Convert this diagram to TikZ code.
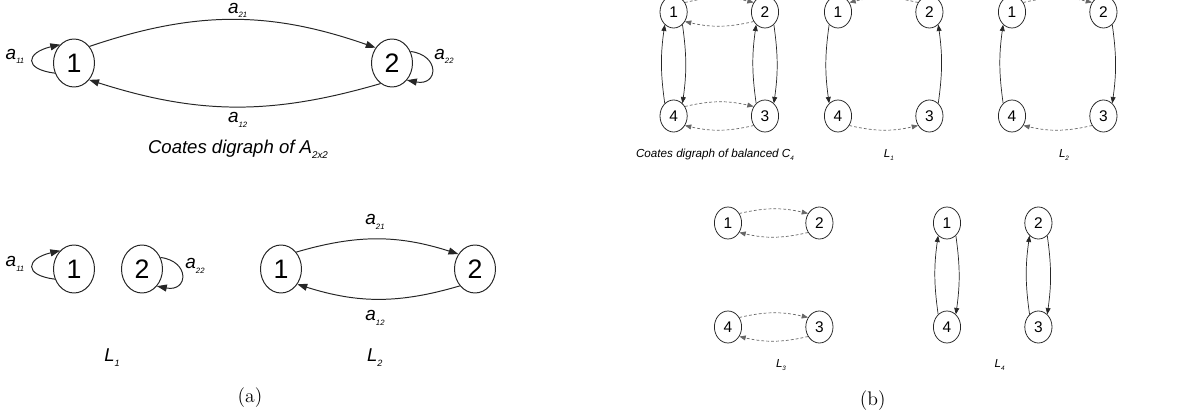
\documentclass[tikz,border=0pt]{standalone}
\usepackage{fontspec}
\newfontfamily\arialf{Liberation Sans}
\usetikzlibrary{arrows.meta,shapes.geometric}
\tikzset{
  vbig/.style={ellipse,draw=black!85,line width=0.7pt,minimum width=1.025cm,
    minimum height=1.2cm,inner sep=0pt,font=\arialf\fontsize{19}{20}\selectfont},
  vsm/.style={ellipse,draw=black!85,line width=0.55pt,minimum width=0.68cm,
    minimum height=0.8cm,inner sep=0pt,font=\arialf\fontsize{11}{12}\selectfont},
  edg/.style={draw=black!85,line width=0.7pt,-{Triangle[length=7pt,width=5pt]}},
  edgs/.style={draw=black!85,line width=0.5pt,-{Triangle[length=4.5pt,width=3.5pt]}},
  dedg/.style={edgs,draw=black!60,dash pattern=on 2pt off 1.5pt},
  wlbl/.style={anchor=base,inner sep=1pt,font=\arialf\fontsize{13.5}{15}\selectfont},
  capa/.style={anchor=base,font=\arialf\itshape\fontsize{13.2}{15}\selectfont},
  capb/.style={anchor=base,font=\arialf\itshape\fontsize{8.3}{10}\selectfont},
}
\newcommand{\wt}[1]{\textit{a}\raisebox{-0.45ex}{\fontsize{5.5}{6}\selectfont\textit{#1}}}
\newcommand{\lsub}[2]{\raisebox{-0.45ex}{\fontsize{#1}{#1}\selectfont #2}}
\begin{document}
\begin{tikzpicture}[x=1cm,y=1cm]
  \useasboundingbox (0,0) rectangle (30.075,10.475);
  % (a) Coates digraph of A
  \node[vbig] (co1) at (1.85,8.9) {1};
  \node[vbig] (co2) at (9.8,8.9) {2};
  \draw[edg] (co1.47) to[bend left=19] (co2.137);
  \draw[edg] (co2.241) to[bend left=17] (co1.312);
  \draw[edg] (co1.208) .. controls +(-0.8,0.1) and +(-0.85,-0.2) .. (co1.127);
  \draw[edg] (co2.32) .. controls +(0.75,-0.1) and +(0.78,-0.15) .. (co2.311);
  \node[wlbl] (cw21) at (5.94,10.14) {\wt{21}};
  \node[wlbl] (cw12) at (5.94,7.4) {\wt{12}};
  \node[wlbl] (cw11) at (0.375,8.99) {\wt{11}};
  \node[wlbl] (cw22) at (11.1,8.99) {\wt{22}};
  \node[capa] (capco) at (5.95,6.625) {Coates digraph of A\lsub{7}{2x2}};
  % (a) linear subgraphs
  \node[vbig] (one1) at (1.85,3.75) {1};
  \node[vbig] (one2) at (3.55,3.75) {2};
  \draw[edg] (one1.208) .. controls +(-0.8,0.1) and +(-0.85,-0.2) .. (one1.127);
  \draw[edg] (one2.32) .. controls +(0.75,-0.1) and +(0.78,-0.15) .. (one2.311);
  \node[wlbl] (ow11) at (0.375,3.81) {\wt{11}};
  \node[wlbl] (ow22) at (4.875,3.75) {\wt{22}};
  \node[vbig] (two1) at (7.025,3.75) {1};
  \node[vbig] (two2) at (11.875,3.75) {2};
  \draw[edg] (two1.48) to[bend left=17] (two2.138);
  \draw[edg] (two2.228) to[bend left=17] (two1.317);
  \node[wlbl] (tw21) at (9.375,4.85) {\wt{21}};
  \node[wlbl] (tw12) at (9.375,2.45) {\wt{12}};
  \node[capa] (labl1) at (2.8,1.43) {L\lsub{6.5}{1}};
  \node[capa] (labl2) at (9.37,1.43) {L\lsub{6.5}{2}};
  \node[anchor=base,font=\fontsize{14}{16}\selectfont] (suba) at (6.25,0.41) {(a)};
  % (b) Coates digraph of balanced C4 and its linear subgraphs
  \foreach \g/\x/\y in {cb/16.84/10.175,la/20.95/10.175,lb/25.3/10.175,
                        lc/18.2/4.9,ld/23.675/4.9} {
    \node[vsm] (\g1) at (\x,\y) {1};
    \node[vsm] (\g2) at (\x+2.285,\y) {2};
    \node[vsm] (\g3) at (\x+2.285,\y-2.6) {3};
    \node[vsm] (\g4) at (\x,\y-2.6) {4};
  }
  \foreach \g in {cb,lc} {
    \draw[dedg] (\g1.40) to[bend left=13] (\g2.140);
    \draw[dedg] (\g2.220) to[bend left=13] (\g1.320);
    \draw[dedg] (\g4.40) to[bend left=13] (\g3.140);
    \draw[dedg] (\g3.220) to[bend left=13] (\g4.320);
  }
  \foreach \g in {cb,ld} {
    \draw[edgs] (\g4.125) to[bend left=8] (\g1.235);
    \draw[edgs] (\g1.305) to[bend left=8] (\g4.55);
    \draw[edgs] (\g3.125) to[bend left=8] (\g2.235);
    \draw[edgs] (\g2.305) to[bend left=8] (\g3.55);
  }
  \draw[edgs] (la1.235) to[bend right=8] (la4.125);
  \draw[dedg] (la4.320) to[bend right=13] (la3.220);
  \draw[edgs] (la3.55) to[bend right=8] (la2.305);
  \draw[dedg] (la2.140) to[bend right=13] (la1.40);
  \draw[edgs] (lb4.125) to[bend left=8] (lb1.235);
  \draw[dedg] (lb1.40) to[bend left=13] (lb2.140);
  \draw[edgs] (lb2.305) to[bend left=8] (lb3.55);
  \draw[dedg] (lb3.220) to[bend left=13] (lb4.320);
  \node[capb] (capcb) at (17.875,6.53) {Coates digraph of balanced C\lsub{4.5}{4}};
  \node[capb] (labla) at (22.22,6.53) {L\lsub{4.5}{1}};
  \node[capb] (lablb) at (26.6,6.53) {L\lsub{4.5}{2}};
  \node[capb] (lablc) at (19.525,1.28) {L\lsub{4.5}{3}};
  \node[capb] (labld) at (24.99,1.28) {L\lsub{4.5}{4}};
  \node[anchor=base,font=\fontsize{14}{16}\selectfont] (subb) at (21.82,0.35) {(b)};
\end{tikzpicture}
\end{document}
